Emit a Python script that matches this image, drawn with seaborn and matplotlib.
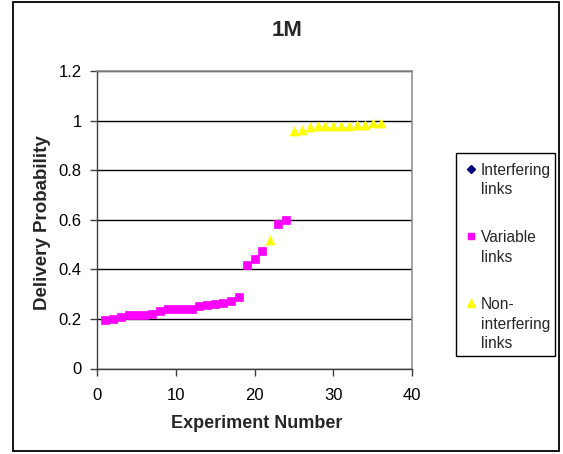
import matplotlib
matplotlib.use("Agg")
import matplotlib.pyplot as plt
import seaborn as sns
import pandas as pd
import numpy as np
from matplotlib.patches import Rectangle
from matplotlib.lines import Line2D

sns.set_theme(style="white")
plt.rcParams['font.family'] = ['Liberation Sans', 'DejaVu Sans']

# ---- data ----
variable_x = list(range(1, 22)) + [23, 24]
variable_y = [0.194, 0.198, 0.207, 0.215, 0.215, 0.215, 0.219, 0.233, 0.238, 0.238,
              0.238, 0.242, 0.252, 0.256, 0.260, 0.264, 0.273, 0.290, 0.417, 0.440,
              0.475, 0.581, 0.599]
nonint_x = [22] + list(range(25, 37))
nonint_y = [0.520, 0.959, 0.964, 0.974, 0.978, 0.979, 0.979, 0.979, 0.979, 0.983,
            0.983, 0.989, 0.989]
interfering_x = []
interfering_y = []

series_names = ["Interfering\nlinks", "Variable\nlinks", "Non-\ninterfering\nlinks"]
x_ticks = [0, 10, 20, 30, 40]
y_ticks = [0, 0.2, 0.4, 0.6, 0.8, 1.0, 1.2]
y_tick_labels = ["0", "0.2", "0.4", "0.6", "0.8", "1", "1.2"]

df = pd.concat([
    pd.DataFrame({"x": interfering_x, "y": interfering_y, "series": series_names[0]}),
    pd.DataFrame({"x": variable_x, "y": variable_y, "series": series_names[1]}),
    pd.DataFrame({"x": nonint_x, "y": nonint_y, "series": series_names[2]}),
], ignore_index=True)

colors = {series_names[0]: "#000080", series_names[1]: "#FF00FF", series_names[2]: "#FFFF00"}
markers = {series_names[0]: "D", series_names[1]: "s", series_names[2]: "^"}
sizes = {series_names[0]: 22, series_names[1]: 26, series_names[2]: 42}

W, H = 563, 454
fig = plt.figure(figsize=(W / 100, H / 100), dpi=100)
ax = fig.add_axes([97 / W, 1 - 368.5 / H, (412 - 97) / W, (368.5 - 71) / H])

for name in series_names:
    sub = df[df["series"] == name]
    if len(sub):
        sns.scatterplot(data=sub, x="x", y="y", ax=ax, color=colors[name],
                        marker=markers[name], s=sizes[name], edgecolor=colors[name],
                        linewidth=0.5, legend=False, zorder=3)

ax.set_xlim(0, 40)
ax.set_ylim(0, 1.2)
ax.set_xticks(x_ticks)
ax.set_yticks(y_ticks)
ax.set_yticklabels(y_tick_labels)
ax.set_xlabel("")
ax.set_ylabel("")
ax.yaxis.grid(True, color="black", linewidth=1.0)
ax.xaxis.grid(False)
ax.set_axisbelow(True)
for s in ["left", "bottom"]:
    ax.spines[s].set_color("#404040")
    ax.spines[s].set_linewidth(1.0)
for s in ["top", "right"]:
    ax.spines[s].set_color("#909090")
    ax.spines[s].set_linewidth(1.2)
ax.tick_params(axis="both", which="major", direction="out", length=5, width=1,
               color="#404040", labelsize=12, labelcolor="black", left=True, bottom=True)
ax.tick_params(axis="y", pad=6)
ax.tick_params(axis="x", pad=9)

# titles and labels
fig.text(287 / W, 1 - 30 / H, "1M", ha="center", va="center", fontsize=16, fontweight="bold")
fig.text(257 / W, 1 - 424 / H, "Experiment Number", ha="center", va="center",
         fontsize=13, fontweight="bold")
fig.text(43 / W, 1 - 223 / H, "Delivery Probability", ha="center", va="center",
         rotation=90, fontsize=13.5, fontweight="bold")

# outer chart border
fig.patches.append(Rectangle((13 / W, 1 - 451 / H), (559 - 13) / W, (451 - 1.5) / H,
                             transform=fig.transFigure, fill=False, edgecolor="black",
                             linewidth=1.3))

# legend box (drawn manually to match multi-line layout)
fig.patches.append(Rectangle((456 / W, 1 - 356 / H), (555 - 456) / W, (356 - 153) / H,
                             transform=fig.transFigure, fill=False, edgecolor="black",
                             linewidth=1.0))
first_line_y = [169, 236, 303]
line_gap = 19.5
for name, y0 in zip(series_names, first_line_y):
    fig.add_artist(Line2D([470.5 / W], [1 - y0 / H], marker=markers[name], color=colors[name],
                          markersize={"D": 4.5, "s": 5, "^": 6}[markers[name]],
                          markeredgecolor=colors[name], linestyle="none",
                          transform=fig.transFigure))
    for i, line in enumerate(name.split("\n")):
        fig.text(481 / W, 1 - (y0 + i * line_gap) / H, line, ha="left", va="center_baseline",
                 fontsize=11.2)

fig.savefig("out.png", dpi=100)
